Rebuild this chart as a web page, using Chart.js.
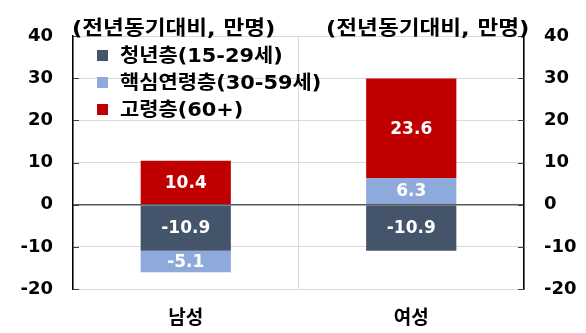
<!DOCTYPE html>
<html>
<head>
<meta charset="utf-8">
<script src="https://cdn.jsdelivr.net/npm/chart.js@4/dist/chart.umd.min.js"></script>
<style>
  html, body { margin: 0; padding: 0; background: #fff; }
  #wrap { position: relative; width: 586px; height: 333px; }
  #chart { position: absolute; left: 0; top: 0; }
  .unit { position: absolute; top: 12px; height: 20px; line-height: 20px; font: bold 20px "DejaVu Sans", "Noto Sans CJK KR", sans-serif; color: #000; white-space: nowrap; transform: scaleX(1.13); transform-origin: 0 50%; }
  #legend { position: absolute; left: 97px; top: 42px; font: bold 19px "DejaVu Sans", "Noto Sans CJK KR", sans-serif; color: #000; }
  #legend .row { height: 27px; line-height: 27px; white-space: nowrap; }
  #legend .sw { display: inline-block; width: 11px; height: 11px; margin-right: 12px; vertical-align: 1px; }
  #legend .txt { display: inline-block; transform: scaleX(1.1); transform-origin: 0 50%; }
</style>
</head>
<body>
<div id="wrap">
  <canvas id="chart" width="586" height="333"></canvas>
  <div class="unit" style="left:72px">(전년동기대비, 만명)</div>
  <div class="unit" style="left:326px">(전년동기대비, 만명)</div>
  <div id="legend"></div>
</div>
<script>
// 성별 · 연령대별 취업자 증감 (전년동기대비, 만명)
const categories = ['남성', '여성'];
const seriesNames = ['청년층(15-29세)', '핵심연령층(30-59세)', '고령층(60+)'];
const youth = [-10.9, -10.9];
const coreAge = [-5.1, 6.3];
const elderly = [10.4, 23.6];
const tickValues = [-20, -10, 0, 10, 20, 30, 40];
const colors = ['#44546A', '#8EA9DB', '#C00000'];

const FONT = '"DejaVu Sans", "Noto Sans CJK KR", sans-serif';
const seriesValues = [youth, coreAge, elderly];

// legend rows built from the series names and colours
const legendEl = document.getElementById('legend');
seriesNames.forEach((name, i) => {
  const row = document.createElement('div');
  row.className = 'row';
  const sw = document.createElement('span');
  sw.className = 'sw';
  sw.style.background = colors[i];
  const txt = document.createElement('span');
  txt.className = 'txt';
  txt.textContent = name;
  row.appendChild(sw);
  row.appendChild(txt);
  legendEl.appendChild(row);
});

// white value labels in the middle of each bar segment
const segmentLabels = {
  id: 'segmentLabels',
  afterDatasetsDraw(chart) {
    const ctx = chart.ctx;
    ctx.save();
    ctx.font = 'bold 17px ' + FONT;
    ctx.fillStyle = '#ffffff';
    ctx.textAlign = 'center';
    ctx.textBaseline = 'middle';
    chart.data.datasets.forEach((ds, di) => {
      const meta = chart.getDatasetMeta(di);
      meta.data.forEach((bar, i) => {
        const v = ds.data[i];
        const yMid = (bar.y + bar.base) / 2;
        ctx.fillText(v.toFixed(1), bar.x, yMid + 1);
      });
    });
    ctx.restore();
  }
};

// short inward tick marks on both value axes
const innerTicks = {
  id: 'innerTicks',
  afterDraw(chart) {
    const ctx = chart.ctx;
    const yl = chart.scales.y, yr = chart.scales.y2;
    ctx.save();
    ctx.strokeStyle = '#404040';
    ctx.lineWidth = 1;
    yl.ticks.forEach((t, i) => {
      const p = Math.round(yl.getPixelForTick(i)) + 0.5;
      ctx.beginPath();
      ctx.moveTo(yl.right, p); ctx.lineTo(yl.right + 6, p); ctx.stroke();
    });
    yr.ticks.forEach((t, i) => {
      const p = Math.round(yr.getPixelForTick(i)) + 0.5;
      ctx.beginPath();
      ctx.moveTo(yr.left - 6, p); ctx.lineTo(yr.left, p); ctx.stroke();
    });
    ctx.restore();
  }
};

const tickFont = { family: FONT, size: 18, weight: 'bold' };

new Chart(document.getElementById('chart'), {
  type: 'bar',
  data: {
    labels: categories,
    datasets: seriesNames.map((name, i) => ({
      label: name,
      data: seriesValues[i],
      backgroundColor: colors[i],
      borderWidth: 0,
      categoryPercentage: 1.0,
      barPercentage: 0.4
    }))
  },
  options: {
    responsive: false,
    animation: false,
    events: [],
    layout: { padding: { top: 36, left: 0, right: 0, bottom: 0 } },
    plugins: {
      legend: { display: false },
      tooltip: { enabled: false }
    },
    scales: {
      x: {
        stacked: true,
        offset: true,
        grid: { display: true, offset: true, color: '#d9d9d9', lineWidth: 1, drawTicks: false },
        border: { display: false },
        ticks: { color: '#000', font: { family: FONT, size: 19, weight: 'bold' }, padding: 19 },
        afterFit(scale) { scale.height = 44; }
      },
      y: {
        stacked: true,
        position: 'left',
        min: -20, max: 40,
        afterBuildTicks(scale) { scale.ticks = tickValues.map(v => ({ value: v })); },
        grid: {
          drawTicks: false,
          color: ctx => (ctx.tick && ctx.tick.value === 0) ? '#595959' : '#d9d9d9',
          lineWidth: ctx => (ctx.tick && ctx.tick.value === 0) ? 1.5 : 1
        },
        border: { display: true, color: '#000', width: 1.5 },
        ticks: { color: '#000', font: tickFont, padding: 20 },
        afterFit(scale) { scale.width = 73; }
      },
      y2: {
        position: 'right',
        min: -20, max: 40,
        afterBuildTicks(scale) { scale.ticks = tickValues.map(v => ({ value: v })); },
        grid: { display: false, drawTicks: false },
        border: { display: true, color: '#000', width: 1.5 },
        ticks: { color: '#000', font: tickFont, padding: 20 },
        afterFit(scale) { scale.width = 62; }
      }
    }
  },
  plugins: [segmentLabels, innerTicks]
});
</script>
</body>
</html>
